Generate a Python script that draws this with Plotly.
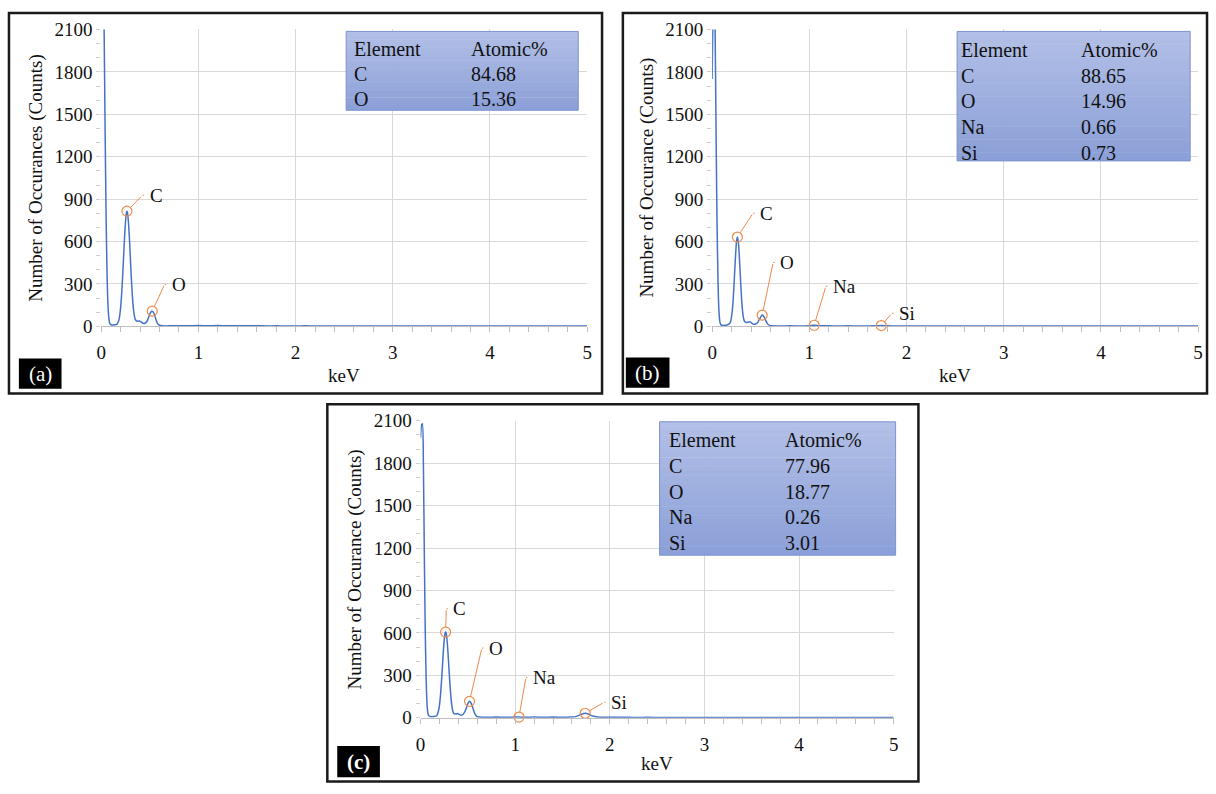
import plotly.graph_objects as go

PAGE_W, PAGE_H = 1216, 794
OFF = 0
FW, FH = PAGE_W - 2 * OFF, PAGE_H - 2 * OFF

# ---------------- data ----------------
kev_a = ([0.00, 0.01, 0.02, 0.03, 0.04, 0.05, 0.06, 0.07, 0.08, 0.09, 0.10, 0.12, 0.14, 0.16, 0.18, 0.19,
          0.20, 0.21, 0.22, 0.23, 0.24, 0.25, 0.26, 0.265, 0.27, 0.28, 0.29, 0.30, 0.31, 0.32, 0.33,
          0.34, 0.35, 0.37, 0.39, 0.41, 0.43, 0.45, 0.47, 0.48, 0.49, 0.50, 0.51, 0.52, 0.525, 0.53,
          0.54, 0.55, 0.56, 0.57, 0.58, 0.60, 0.63, 0.66]
         + [0.7, 0.8, 0.9, 1.0, 1.1, 1.2, 1.3, 1.4, 1.5, 1.6, 1.7, 1.8, 1.9, 2.0, 2.1, 2.2, 2.3, 2.4,
            2.5, 2.6, 2.7, 2.8, 2.9, 3.0, 3.2, 3.4, 3.6, 3.8, 4.0, 4.2, 4.4, 4.6, 4.8, 5.0])
cnt_a = ([2150, 2500, 2600, 2100, 1400, 800, 380, 150, 50, 18, 12, 10, 11, 14, 40, 75,
          135, 225, 345, 485, 625, 740, 806, 815, 806, 740, 625, 485, 345, 225, 135,
          80, 50, 36, 38, 32, 22, 22, 35, 50, 68, 86, 100, 107, 108, 106,
          96, 78, 56, 36, 20, 8, 4, 3]
         + [4, 5, 4, 6, 5, 6, 4, 5, 4, 5, 3, 4, 3, 3, 4, 3, 3, 2,
            3, 2, 3, 2, 2, 2, 2, 2, 2, 2, 2, 2, 2, 2, 2, 2])

kev_b = ([0.00, 0.01, 0.02, 0.03, 0.04, 0.05, 0.06, 0.07, 0.08, 0.09, 0.10, 0.12, 0.14, 0.16, 0.18, 0.19,
          0.20, 0.21, 0.22, 0.23, 0.24, 0.25, 0.26, 0.27, 0.28, 0.29, 0.30, 0.31, 0.32, 0.33, 0.35,
          0.37, 0.39, 0.41, 0.43, 0.45, 0.47, 0.48, 0.49, 0.50, 0.51, 0.515, 0.52, 0.53, 0.54, 0.55,
          0.56, 0.57, 0.59, 0.62, 0.66]
         + [0.7, 0.8, 0.9, 1.0, 1.05, 1.1, 1.2, 1.3, 1.4, 1.5, 1.6, 1.7, 1.74, 1.8, 1.9, 2.0, 2.1, 2.2,
            2.3, 2.4, 2.5, 2.6, 2.7, 2.8, 2.9, 3.0, 3.2, 3.4, 3.6, 3.8, 4.0, 4.2, 4.4, 4.6, 4.8, 5.0])
cnt_b = ([1750, 2300, 2500, 2150, 1400, 750, 330, 110, 30, 12, 8, 7, 8, 12, 20, 35,
          70, 130, 230, 360, 490, 595, 632, 595, 490, 360, 230, 130, 70, 40, 28,
          30, 32, 22, 15, 18, 30, 42, 55, 68, 77, 80, 79, 72, 60, 45,
          30, 18, 7, 4, 3]
         + [3, 4, 3, 5, 8, 5, 4, 3, 4, 3, 3, 4, 6, 4, 3, 3, 2, 3,
            2, 2, 2, 2, 2, 2, 2, 2, 2, 2, 2, 2, 2, 2, 2, 2, 2, 2])

kev_c = ([0.00, 0.01, 0.02, 0.03, 0.04, 0.05, 0.06, 0.07, 0.08, 0.09, 0.10, 0.12, 0.14, 0.17, 0.18, 0.19,
          0.20, 0.21, 0.22, 0.23, 0.24, 0.25, 0.26, 0.265, 0.27, 0.28, 0.29, 0.30, 0.31, 0.32, 0.33,
          0.34, 0.35, 0.37, 0.39, 0.41, 0.43, 0.45, 0.47, 0.48, 0.49, 0.50, 0.51, 0.517, 0.525, 0.535,
          0.545, 0.555, 0.565, 0.575, 0.59, 0.62, 0.66]
         + [0.7, 0.8, 0.9, 1.0, 1.04, 1.1, 1.2, 1.3, 1.4, 1.5, 1.6, 1.65, 1.70, 1.74, 1.78, 1.82, 1.87,
            1.95, 2.0, 2.1, 2.2, 2.3, 2.4, 2.5, 2.6, 2.7, 2.8, 2.9, 3.0, 3.2, 3.4, 3.6, 3.8, 4.0, 4.2,
            4.4, 4.6, 4.8, 5.0])
cnt_c = ([1980, 2070, 2080, 1800, 1150, 600, 250, 80, 25, 12, 9, 8, 9, 14, 28, 50,
          90, 155, 245, 350, 460, 550, 600, 606, 600, 550, 460, 350, 245, 155, 90,
          50, 32, 26, 30, 24, 18, 25, 45, 62, 82, 100, 112, 116, 113, 102,
          85, 64, 44, 27, 12, 5, 4]
         + [4, 5, 4, 5, 5, 4, 5, 4, 5, 4, 5, 10, 25, 32, 25, 12, 6,
            4, 3, 3, 3, 2, 3, 2, 2, 2, 2, 2, 2, 2, 2, 2, 2, 2, 2,
            2, 2, 2, 2])

assert len(kev_a) == len(cnt_a) and len(kev_b) == len(cnt_b) and len(kev_c) == len(cnt_c)

# peak labels
lab_a = ["C", "O"]
pk_x_a = [0.265, 0.525]
pk_y_a = [815, 108]
lab_b = ["C", "O", "Na", "Si"]
pk_x_b = [0.26, 0.515, 1.05, 1.74]
pk_y_b = [632, 80, 8, 6]
lab_c = ["C", "O", "Na", "Si"]
pk_x_c = [0.265, 0.517, 1.04, 1.74]
pk_y_c = [606, 116, 5, 32]

# composition tables
tab_el_a = ["C", "O"]
tab_at_a = ["84.68", "15.36"]
tab_el_b = ["C", "O", "Na", "Si"]
tab_at_b = ["88.65", "14.96", "0.66", "0.73"]
tab_el_c = ["C", "O", "Na", "Si"]
tab_at_c = ["77.96", "18.77", "0.26", "3.01"]

x_ticks = [0, 1, 2, 3, 4, 5]
y_ticks = [0, 300, 600, 900, 1200, 1500, 1800, 2100]

# ---------------- layout geometry (page pixels) ----------------
SERIF = "Liberation Serif"
BLUE = "#4472C4"
ORANGE = "#F08A4B"
TICK_FS = 19

panels = [
    dict(kev=kev_a, cnt=cnt_a, lab=lab_a, px=pk_x_a, py=pk_y_a,
         dx=[15.6, 12.4], dy=[16, 26.6],
         plot=(97, 587, 20, 325), frame=(4, 602, 3, 394), tag="(a)", tagbox=(14, 57, 358, 389), tagbold=False,
         ytitle="Number of Occurances (Counts)", ytx=31, xty=375,
         table=(344, 578, 22, 103), tel=tab_el_a, tat=tab_at_a, tcol=(350, 468), trow0=40, tstep=25.5),
    dict(kev=kev_b, cnt=cnt_b, lab=lab_b, px=pk_x_b, py=pk_y_b,
         dx=[15.7, 11, 11.7, 10.7], dy=[24, 52.7, 39, 12.3],
         plot=(713, 1203, 20, 325), frame=(623, 1212, 3, 394), tag="(b)", tagbox=(626, 670, 357, 388), tagbold=False,
         ytitle="Number of Occurance (Counts)", ytx=647, xty=375,
         table=(960, 1195, 22, 155), tel=tab_el_b, tat=tab_at_b, tcol=(962, 1083), trow0=41, tstep=26.4),
    dict(kev=kev_c, cnt=cnt_c, lab=lab_c, px=pk_x_c, py=pk_y_c,
         dx=[0.7, 12.4, 7, 19], dy=[23.3, 53.3, 39.7, 11],
         plot=(419, 896, 422, 727), frame=(325, 921, 405, 793), tag="(c)", tagbox=(335, 378, 756, 788), tagbold=True,
         ytitle="Number of Occurance (Counts)", ytx=353, xty=774,
         table=(660, 898, 423, 560), tel=tab_el_c, tat=tab_at_c, tcol=(667, 784), trow0=442, tstep=26.3),
]


def px2x(p):
    return (p - OFF) / FW


def px2y(p):
    return 1 - (p - OFF) / FH


def clampx(p):
    return min(max(p, OFF + 1.5), OFF + FW - 1.5)


def clampy(p):
    return min(max(p, OFF + 1.5), OFF + FH - 1.5)


fig = go.Figure()
shapes = []
annotations = []

for i, P in enumerate(panels, start=1):
    xa = "x" if i == 1 else f"x{i}"
    ya = "y" if i == 1 else f"y{i}"
    l, r, t, b = P["plot"]

    fig.add_trace(go.Scatter(x=P["kev"], y=P["cnt"], mode="lines",
                             line=dict(color=BLUE, width=1.5, shape="spline", smoothing=0.6),
                             xaxis=xa, yaxis=ya, showlegend=False, hoverinfo="skip"))
    fig.add_trace(go.Scatter(x=P["px"], y=P["py"], mode="markers",
                             marker=dict(symbol="circle-open", size=10, color=ORANGE, line=dict(width=1.2, color=ORANGE)),
                             xaxis=xa, yaxis=ya, showlegend=False, cliponaxis=False, hoverinfo="skip"))

    axx = dict(domain=[px2x(l), px2x(r)], range=[0, 5], tickvals=x_ticks, anchor=ya,
               showgrid=True, gridcolor="#d9d9d9", gridwidth=1, zeroline=False,
               showline=True, linecolor="#bfbfbf", linewidth=1,
               ticks="outside", ticklen=5, tickcolor="#bfbfbf", ticklabelstandoff=4,
               minor=dict(dtick=0.2, tick0=0, ticks="outside", ticklen=5, tickcolor="#bfbfbf", showgrid=False),
               tickfont=dict(family=SERIF, size=TICK_FS, color="#111"), fixedrange=True)
    axy = dict(domain=[px2y(b), px2y(t)], range=[0, 2100], tickvals=y_ticks, anchor=xa,
               showgrid=True, gridcolor="#d9d9d9", gridwidth=1, zeroline=False, showline=False,
               ticks="outside", ticklen=4, tickcolor="#cfcfcf",
               minor=dict(dtick=100, tick0=0, ticks="outside", ticklen=4, tickcolor="#cfcfcf", showgrid=False),
               tickfont=dict(family=SERIF, size=TICK_FS, color="#111"), fixedrange=True)
    fig.update_layout({("xaxis" if i == 1 else f"xaxis{i}"): axx,
                       ("yaxis" if i == 1 else f"yaxis{i}"): axy})

    # peak leader lines + labels
    for lab, x0, y0, dx, dy in zip(P["lab"], P["px"], P["py"], P["dx"], P["dy"]):
        annotations.append(dict(x=x0, y=y0, xref=xa, yref=ya, text="", showarrow=True,
                                ax=dx, ay=-dy, arrowhead=0, arrowwidth=1, arrowcolor=ORANGE, standoff=5))
        annotations.append(dict(x=x0, y=y0, xref=xa, yref=ya, text="", showarrow=True,
                                xshift=dx, yshift=dy, ax=3, ay=0, arrowhead=0, arrowwidth=1, arrowcolor=ORANGE, standoff=0))
        annotations.append(dict(x=x0, y=y0, xref=xa, yref=ya, text=lab, showarrow=False,
                                xshift=dx + 5, yshift=dy, xanchor="left", yanchor="middle",
                                font=dict(family=SERIF, size=19, color="#111")))

    # axis titles
    annotations.append(dict(x=px2x(P["ytx"]), y=px2y((t + b) / 2), xref="paper", yref="paper",
                            text=P["ytitle"], textangle=-90, showarrow=False, xanchor="center", yanchor="middle",
                            font=dict(family=SERIF, size=19, color="#111")))
    annotations.append(dict(x=px2x((l + r) / 2), y=px2y(P["xty"]), xref="paper", yref="paper",
                            text="keV", showarrow=False, xanchor="center", yanchor="middle",
                            font=dict(family=SERIF, size=19, color="#111")))

    # frame
    fl, fr, ft, fb = P["frame"]
    shapes.append(dict(type="rect", xref="paper", yref="paper",
                       x0=px2x(clampx(fl)), x1=px2x(clampx(fr)), y0=px2y(clampy(fb)), y1=px2y(clampy(ft)),
                       line=dict(color="#1a1a1a", width=2.5), fillcolor="rgba(0,0,0,0)", layer="above"))
    # tag box
    bl, br, bt, bb = P["tagbox"]
    shapes.append(dict(type="rect", xref="paper", yref="paper", x0=px2x(bl), x1=px2x(br), y0=px2y(bb), y1=px2y(bt),
                       line=dict(width=0), fillcolor="#000000", layer="above"))
    tagtxt = f"<b>{P['tag']}</b>" if P["tagbold"] else P["tag"]
    annotations.append(dict(x=px2x((bl + br) / 2), y=px2y((bt + bb) / 2), xref="paper", yref="paper",
                            text=tagtxt, showarrow=False, xanchor="center", yanchor="middle",
                            font=dict(family=SERIF, size=21, color="#ffffff")))

    # table with vertical gradient
    tl, tr, tt, tb = P["table"]
    nstrip = 30
    c_top = (178, 191, 230)
    c_bot = (139, 160, 216)
    for k in range(nstrip):
        f = k / (nstrip - 1)
        col = tuple(round(c_top[j] + (c_bot[j] - c_top[j]) * f) for j in range(3))
        y0p = tt + (tb - tt) * k / nstrip
        y1p = tt + (tb - tt) * (k + 1) / nstrip
        shapes.append(dict(type="rect", xref="paper", yref="paper", x0=px2x(tl), x1=px2x(tr),
                           y0=px2y(min(y1p + 0.5, tb)), y1=px2y(y0p), line=dict(width=0),
                           fillcolor=f"rgb{col}", layer="above"))
    shapes.append(dict(type="rect", xref="paper", yref="paper", x0=px2x(tl), x1=px2x(tr), y0=px2y(tb), y1=px2y(tt),
                       line=dict(color="#7d93cf", width=1), fillcolor="rgba(0,0,0,0)", layer="above"))
    rows_el = ["Element"] + P["tel"]
    rows_at = ["Atomic%"] + P["tat"]
    c1, c2 = P["tcol"]
    for k, (e, a) in enumerate(zip(rows_el, rows_at)):
        yy = P["trow0"] + k * P["tstep"]
        annotations.append(dict(x=px2x(c1), y=px2y(yy), xref="paper", yref="paper", text=e, showarrow=False,
                                xanchor="left", yanchor="middle", font=dict(family=SERIF, size=20, color="#111")))
        annotations.append(dict(x=px2x(c2), y=px2y(yy), xref="paper", yref="paper", text=a, showarrow=False,
                                xanchor="left", yanchor="middle", font=dict(family=SERIF, size=20, color="#111")))

fig.update_layout(width=FW, height=FH, margin=dict(l=0, r=0, t=0, b=0),
                  paper_bgcolor="white", plot_bgcolor="white",
                  shapes=shapes, annotations=annotations, showlegend=False)

fig.write_html("out.html", config={"displayModeBar": False})
